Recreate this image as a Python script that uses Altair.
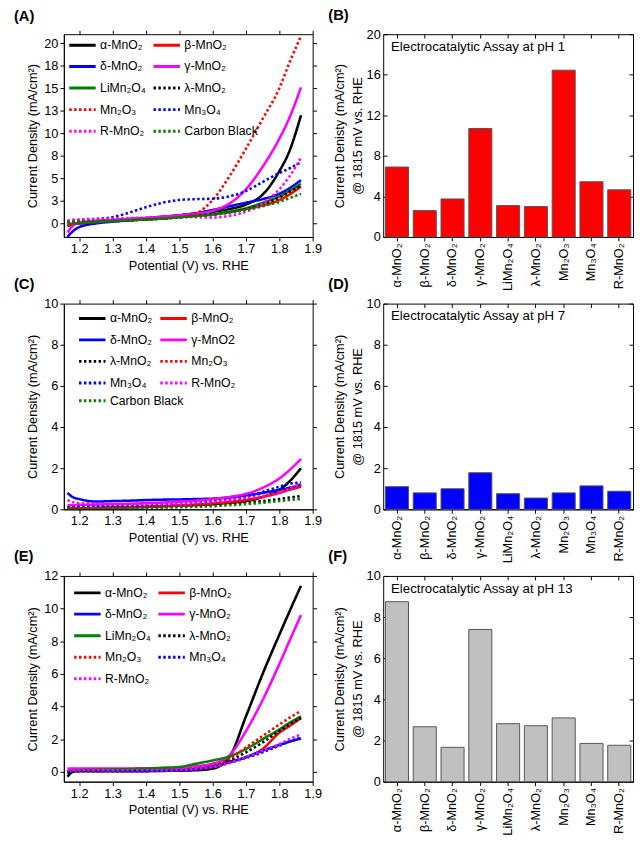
import altair as alt
import pandas as pd

# ---------------- data ----------------
V_GRID = [1.165, 1.18, 1.2, 1.25, 1.3, 1.35, 1.4, 1.45, 1.5, 1.55, 1.6, 1.65, 1.7, 1.75, 1.8, 1.83, 1.865]

# Panel A (pH 1)
A_alpha = [-0.3, -0.1, 0.0, 0.2, 0.35, 0.5, 0.6, 0.75, 0.9, 1.1, 1.3, 1.6, 2.1, 3.2, 5.8, 8.0, 12.0]
A_beta = [-0.2, -0.1, 0.0, 0.15, 0.25, 0.35, 0.45, 0.55, 0.7, 0.85, 1.0, 1.25, 1.6, 2.0, 2.6, 3.2, 4.1]
A_delta = [-1.5, -0.9, -0.4, 0.0, 0.2, 0.35, 0.5, 0.7, 0.9, 1.15, 1.5, 1.9, 2.3, 2.7, 3.3, 3.9, 4.8]
A_gamma = [-1.0, -0.3, 0.1, 0.3, 0.4, 0.5, 0.6, 0.75, 0.9, 1.1, 1.4, 2.2, 3.8, 6.3, 9.4, 11.7, 15.1]
A_limn = [-0.1, 0.0, 0.05, 0.15, 0.25, 0.35, 0.45, 0.55, 0.7, 0.85, 1.0, 1.3, 1.7, 2.3, 3.0, 3.6, 4.4]
A_lambda = [0.2, 0.2, 0.2, 0.25, 0.3, 0.35, 0.45, 0.55, 0.7, 0.85, 1.0, 1.25, 1.6, 2.1, 2.9, 3.5, 4.2]
A_mn2o3 = [0.0, 0.05, 0.1, 0.2, 0.3, 0.4, 0.5, 0.6, 0.7, 1.1, 2.6, 5.2, 8.3, 11.6, 15.0, 17.8, 20.8]
A_mn3o4 = [0.2, 0.3, 0.35, 0.5, 0.7, 1.2, 1.8, 2.3, 2.6, 2.7, 2.75, 3.0, 3.6, 4.6, 5.6, 6.1, 6.8]
A_r = [0.3, 0.4, 0.45, 0.5, 0.55, 0.6, 0.65, 0.7, 0.75, 0.7, 0.65, 0.85, 1.3, 2.2, 3.8, 5.2, 7.3]
A_cb = [0.2, 0.2, 0.2, 0.25, 0.3, 0.35, 0.45, 0.55, 0.65, 0.8, 0.95, 1.2, 1.5, 1.9, 2.4, 2.8, 3.3]

# Panel C (pH 7)
C_alpha = [0.05, 0.05, 0.05, 0.06, 0.08, 0.1, 0.12, 0.15, 0.18, 0.21, 0.25, 0.32, 0.4, 0.6, 0.95, 1.35, 2.0]
C_beta = [0.05, 0.05, 0.05, 0.06, 0.08, 0.1, 0.12, 0.15, 0.18, 0.22, 0.28, 0.35, 0.45, 0.6, 0.8, 0.95, 1.1]
C_delta = [0.8, 0.6, 0.5, 0.38, 0.4, 0.42, 0.45, 0.47, 0.48, 0.5, 0.52, 0.58, 0.68, 0.8, 0.95, 1.05, 1.2]
C_gamma = [0.2, 0.2, 0.22, 0.23, 0.25, 0.27, 0.3, 0.33, 0.37, 0.42, 0.5, 0.6, 0.75, 1.05, 1.5, 1.9, 2.45]
C_lambda = [0.05, 0.05, 0.05, 0.06, 0.07, 0.08, 0.1, 0.12, 0.15, 0.18, 0.22, 0.27, 0.32, 0.4, 0.5, 0.57, 0.65]
C_mn2o3 = [0.1, 0.1, 0.1, 0.1, 0.1, 0.12, 0.14, 0.16, 0.18, 0.22, 0.28, 0.35, 0.45, 0.6, 0.85, 1.0, 1.2]
C_mn3o4 = [0.1, 0.1, 0.12, 0.13, 0.15, 0.17, 0.19, 0.22, 0.25, 0.3, 0.38, 0.48, 0.6, 0.85, 1.1, 1.25, 1.3]
C_r = [0.45, 0.35, 0.3, 0.27, 0.25, 0.25, 0.25, 0.25, 0.25, 0.3, 0.35, 0.45, 0.55, 0.65, 0.8, 1.0, 1.25]
C_cb = [0.05, 0.05, 0.05, 0.05, 0.05, 0.06, 0.07, 0.08, 0.1, 0.12, 0.15, 0.2, 0.25, 0.32, 0.4, 0.45, 0.5]

# Panel E (pH 13)
E_alpha = [-0.3, 0.0, 0.05, 0.05, 0.05, 0.05, 0.05, 0.06, 0.08, 0.1, 0.2, 0.9, 3.4, 6.0, 8.4, 9.8, 11.4]
E_beta = [0.0, 0.05, 0.05, 0.05, 0.05, 0.05, 0.05, 0.07, 0.1, 0.18, 0.3, 0.6, 0.9, 1.4, 2.4, 2.8, 3.3]
E_delta = [0.0, 0.05, 0.05, 0.05, 0.05, 0.05, 0.06, 0.08, 0.1, 0.18, 0.35, 0.6, 0.9, 1.3, 1.65, 1.85, 2.05]
E_gamma = [0.2, 0.2, 0.2, 0.2, 0.2, 0.21, 0.22, 0.23, 0.25, 0.35, 0.5, 1.0, 2.5, 4.4, 6.6, 8.0, 9.6]
E_limn = [0.0, 0.05, 0.1, 0.12, 0.15, 0.17, 0.2, 0.25, 0.3, 0.5, 0.7, 0.95, 1.4, 2.0, 2.6, 3.0, 3.4]
E_lambda = [-0.1, 0.0, 0.05, 0.05, 0.05, 0.05, 0.06, 0.08, 0.1, 0.2, 0.35, 0.7, 1.2, 1.8, 2.5, 2.9, 3.3]
E_mn2o3 = [0.0, 0.05, 0.05, 0.05, 0.05, 0.05, 0.06, 0.08, 0.12, 0.22, 0.4, 0.8, 1.5, 2.2, 2.9, 3.3, 3.75]
E_mn3o4 = [0.0, 0.05, 0.05, 0.05, 0.05, 0.05, 0.06, 0.08, 0.1, 0.15, 0.3, 0.55, 0.85, 1.2, 1.6, 1.85, 2.1]
E_r = [0.1, 0.1, 0.1, 0.1, 0.1, 0.1, 0.1, 0.1, 0.12, 0.18, 0.3, 0.55, 0.9, 1.3, 1.7, 2.0, 2.3]

# Bar panels
BAR_CATS = ["α-MnO₂", "β-MnO₂", "δ-MnO₂", "γ-MnO₂", "LiMn₂O₄", "λ-MnO₂", "Mn₂O₃", "Mn₃O₄", "R-MnO₂"]
B_vals = [6.9, 2.6, 3.75, 10.7, 3.1, 3.0, 16.45, 5.45, 4.65]
D_vals = [1.1, 0.8, 1.0, 1.78, 0.76, 0.55, 0.8, 1.14, 0.88]
F_vals = [8.75, 2.67, 1.67, 7.4, 2.82, 2.72, 3.1, 1.86, 1.77]

X_TICKS = [1.2, 1.3, 1.4, 1.5, 1.6, 1.7, 1.8, 1.9]

SOLID = [1, 0]
DOT = [2.5, 2.5]

FONT = "Liberation Sans"


def make_legend(x, y, row_pad):
    return alt.Legend(
        title=None, orient="none", legendX=x, legendY=y,
        direction="horizontal", columns=2,
        symbolType="stroke", symbolSize=729, symbolStrokeWidth=3,
        labelFontSize=12.5, labelFont=FONT, labelLimit=200, rowPadding=row_pad,
        columnPadding=1, labelOffset=3, padding=0,
    )


def series_layer(series, leg, xscale, yscale, xaxis, yaxis):
    order = [s[0] for s in series]
    rows = []
    for name, _, _, ys in series:
        for v, j in zip(V_GRID, ys):
            rows.append({"series": name, "V": v, "J": j})
    df = pd.DataFrame(rows)
    return alt.Chart(df).mark_line(strokeWidth=2.6, clip=True, interpolate="monotone").encode(
        x=alt.X("V:Q", scale=xscale, axis=xaxis),
        y=alt.Y("J:Q", scale=yscale, axis=yaxis),
        color=alt.Color("series:N", scale=alt.Scale(domain=order, range=[s[1] for s in series]),
                        legend=leg),
        strokeDash=alt.StrokeDash("series:N", scale=alt.Scale(domain=order, range=[s[2] for s in series]),
                                  legend=leg),
    ), df


def line_panel(series, label, ydom, yvals, round_labels, legend_xy, row_pad, height, split=None):
    ykw = dict(values=yvals, title="Current Density (mA/cm²)", tickSize=4)
    if round_labels:
        ykw["labelExpr"] = "format(round(datum.value), 'd')"
    yaxis = alt.Axis(**ykw)
    xaxis = alt.Axis(values=X_TICKS, format=".1f", labelFlush=False,
                     title="Potential (V) vs. RHE", tickSize=4)
    xscale = alt.Scale(domain=[1.154, 1.9], nice=False, zero=False)
    yscale = alt.Scale(domain=ydom, nice=False, zero=False)
    main_series = [s for s in series if not split or s[0] not in split]
    main, df = series_layer(main_series, make_legend(legend_xy[0], legend_xy[1], row_pad),
                            xscale, yscale, xaxis, yaxis)
    layers = [main]
    if split:
        extra_series = [s for s in series if s[0] in split]
        nrows = (len(main_series) + 1) // 2
        pitch = 25.0 + row_pad
        extra, _ = series_layer(extra_series,
                                make_legend(legend_xy[0], legend_xy[1] + nrows * pitch + 4, row_pad),
                                xscale, yscale, None, None)
        layers.append(extra)
    ghost = alt.Chart(df).mark_point(opacity=0).encode(
        x=alt.X("V:Q", scale=xscale,
                axis=alt.Axis(orient="top", values=X_TICKS, labels=False, title=None,
                              domain=False, tickSize=4)),
        y=alt.Y("J:Q", scale=yscale,
                axis=alt.Axis(orient="right", values=yvals, labels=False, title=None,
                              domain=False, tickSize=4)),
    )
    layers.append(ghost)
    lay = alt.layer(*layers)
    if split:
        lay = lay.resolve_scale(color="independent", strokeDash="independent")
    return lay.resolve_axis(x="independent", y="independent").properties(
        width=254, height=height,
        title=alt.TitleParams(label, anchor="start", frame="group", dx=-51, offset=6,
                              fontSize=15, fontWeight="bold", font=FONT),
    )


def bar_panel(vals, color, label, ytitle, ymax, ystep, annot, height):
    df = pd.DataFrame({"cat": BAR_CATS, "val": vals})
    xscale = alt.Scale(paddingInner=0.17, paddingOuter=0.08)
    yscale = alt.Scale(domain=[0, ymax], nice=False)
    yvals = list(range(0, ymax + 1, ystep))
    bars = alt.Chart(df).mark_bar(color=color, stroke="#555555", strokeWidth=1).encode(
        x=alt.X("cat:N", sort=BAR_CATS, scale=xscale,
                axis=alt.Axis(labelAngle=-90, title=None, tickSize=4, labelFontSize=13)),
        y=alt.Y("val:Q", scale=yscale,
                axis=alt.Axis(values=yvals, title=ytitle, titleLineHeight=18, offset=-4,
                              domain=False, labelPadding=3, titlePadding=2, tickSize=4)),
    )
    ghost = alt.Chart(df).mark_point(opacity=0).encode(
        x=alt.X("cat:N", sort=BAR_CATS, scale=xscale,
                axis=alt.Axis(orient="top", labels=False, title=None, domain=False,
                              offset=-4, tickSize=4)),
        y=alt.Y("val:Q", scale=yscale,
                axis=alt.Axis(orient="right", values=yvals, labels=False, title=None,
                              domain=False, offset=-4, tickSize=4)),
    )
    txt = alt.Chart(pd.DataFrame({"t": [annot]})).mark_text(
        align="left", baseline="middle", fontSize=13.5, font=FONT, color="black"
    ).encode(x=alt.value(8), y=alt.value(13), text="t:N")
    return alt.layer(bars, ghost, txt).resolve_axis(x="independent", y="independent").properties(
        width=255, height=height,
        title=alt.TitleParams(label, anchor="start", frame="group", dx=-56, offset=6,
                              fontSize=15, fontWeight="bold", font=FONT),
    )


A_series = [
    ("α-MnO₂", "#000000", SOLID, A_alpha), ("β-MnO₂", "#FF0000", SOLID, A_beta),
    ("δ-MnO₂", "#0000FF", SOLID, A_delta), ("γ-MnO₂", "#FF00FF", SOLID, A_gamma),
    ("LiMn₂O₄", "#008000", SOLID, A_limn), ("λ-MnO₂", "#000000", DOT, A_lambda),
    ("Mn₂O₃", "#FF0000", DOT, A_mn2o3), ("Mn₃O₄", "#0000FF", DOT, A_mn3o4),
    ("R-MnO₂", "#FF00FF", DOT, A_r), ("Carbon Black", "#008000", DOT, A_cb),
]
C_series = [
    ("α-MnO₂", "#000000", SOLID, C_alpha), ("β-MnO₂", "#FF0000", SOLID, C_beta),
    ("δ-MnO₂", "#0000FF", SOLID, C_delta), ("γ-MnO2", "#FF00FF", SOLID, C_gamma),
    ("λ-MnO₂", "#000000", DOT, C_lambda), ("Mn₂O₃", "#FF0000", DOT, C_mn2o3),
    ("Mn₃O₄", "#0000FF", DOT, C_mn3o4), ("R-MnO₂", "#FF00FF", DOT, C_r),
    ("Carbon Black", "#008000", DOT, C_cb),
]
E_series = [
    ("α-MnO₂", "#000000", SOLID, E_alpha), ("β-MnO₂", "#FF0000", SOLID, E_beta),
    ("δ-MnO₂", "#0000FF", SOLID, E_delta), ("γ-MnO₂", "#FF00FF", SOLID, E_gamma),
    ("LiMn₂O₄", "#008000", SOLID, E_limn), ("λ-MnO₂", "#000000", DOT, E_lambda),
    ("Mn₂O₃", "#FF0000", DOT, E_mn2o3), ("Mn₃O₄", "#0000FF", DOT, E_mn3o4),
    ("R-MnO₂", "#FF00FF", DOT, E_r),
]

pA = line_panel(A_series, "(A)", [-1.5, 21], [0, 2.5, 5, 7.5, 10, 12.5, 15, 17.5, 20],
                True, (4, -4), -6, 207)
pC = line_panel(C_series, "(C)", [0, 10], [0, 2, 4, 6, 8, 10], False, (14, 0), -5, 210,
                split=["Carbon Black"])
pE = line_panel(E_series, "(E)", [-0.6, 12], [0, 2, 4, 6, 8, 10, 12], False, (9, 2), -5, 210)

pB = bar_panel(B_vals, "#FF0000", "(B)", ["Current Denisty (mA/cm²)", "@ 1815 mV vs. RHE"], 20, 4,
               "Electrocatalytic Assay at pH 1", 207)
pD = bar_panel(D_vals, "#0000FF", "(D)", ["Current Density (mA/cm²)", "@ 1815 mV vs. RHE"], 10, 2,
               "Electrocatalytic Assay at pH 7", 210)
pF = bar_panel(F_vals, "#C0C0C0", "(F)", ["Current Denisty (mA/cm²)", "@ 1815 mV vs. RHE"], 10, 2,
               "Electrocatalytic Assay at pH 13", 210)

chart = alt.concat(pA, pB, pC, pD, pE, pF, columns=2, bounds="flush",
                   spacing={"row": 68, "column": 72}).resolve_scale(
    color="independent", strokeDash="independent", x="independent", y="independent"
).resolve_legend(color="independent", strokeDash="independent").properties(
    padding={"left": 5, "top": -10, "right": 0, "bottom": 5}
).configure(font=FONT).configure_view(stroke="black", strokeWidth=1).configure_axis(
    domainColor="black", tickColor="black", labelColor="black", titleColor="black",
    labelFontSize=13, titleFontSize=13, titleFontWeight="normal", grid=False,
    labelFont=FONT, titleFont=FONT,
)

chart.save("out.html", embed_options={"renderer": "svg", "actions": False})
